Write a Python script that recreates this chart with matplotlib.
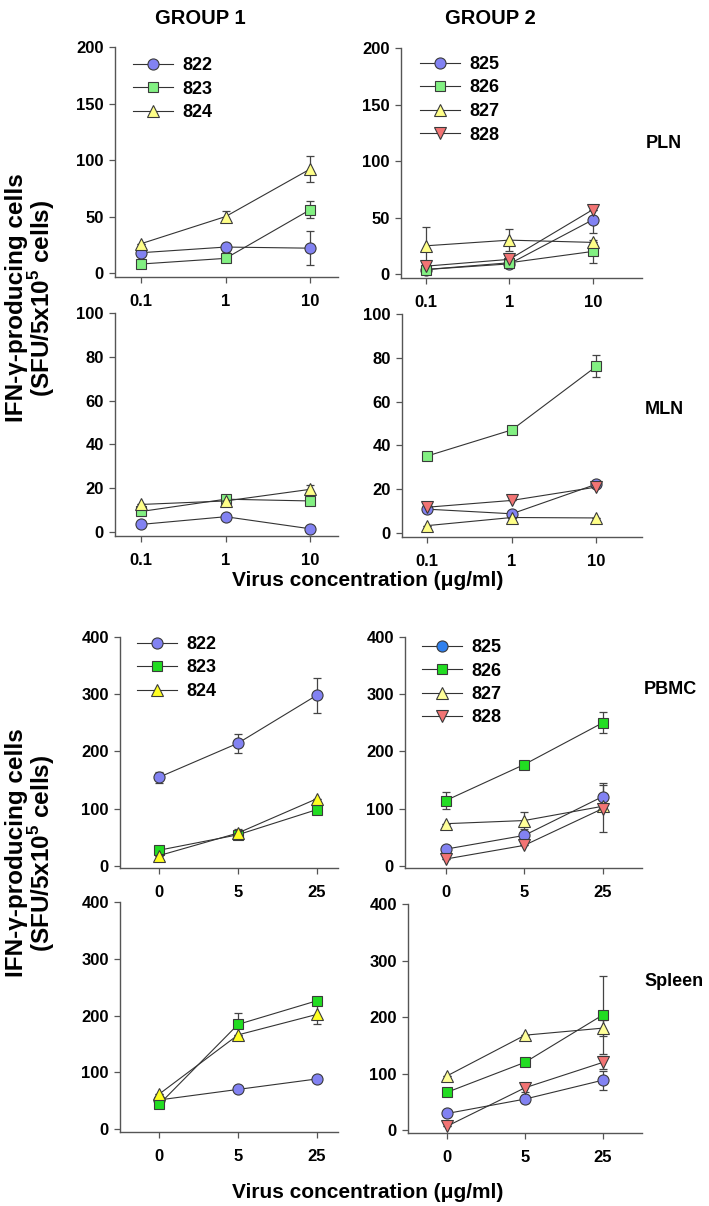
import matplotlib
matplotlib.use('Agg')
import matplotlib.pyplot as plt
from matplotlib.lines import Line2D

plt.rcParams['font.family'] = ['Liberation Sans', 'DejaVu Sans']
plt.rcParams['font.weight'] = 'bold'
plt.rcParams['mathtext.fontset'] = 'custom'
plt.rcParams['mathtext.rm'] = 'Liberation Sans:bold'
plt.rcParams['mathtext.bf'] = 'Liberation Sans:bold'

W, H = 709, 1206

# ---------------- data ----------------
dose_labels = ['0.1', '1', '10']
conc_labels = ['0', '5', '25']
group1_ids = ['822', '823', '824']
group2_ids = ['825', '826', '827', '828']

pln_g1_vals = [[18, 23, 22], [8, 13, 56], [26, 50, 92]]
pln_g1_errs = [[0, 4, 15], [0, 0, 7.5], [0, 5, 11.5]]
pln_g2_vals = [[4, 9, 48], [4, 10, 20], [25, 30, 28], [7, 13, 57]]
pln_g2_errs = [[0, 0, 12], [0, 0, 10], [17, 10, 0], [0, 0, 0]]

mln_g1_vals = [[3.5, 7, 1.5], [9.4, 15, 14.2], [12.6, 14.2, 19.5]]
mln_g1_errs = [[0, 0, 0], [0, 0, 0], [0, 0, 2]]
mln_g2_vals = [[10.9, 8.8, 22.3], [35.2, 47.1, 76.1], [3.4, 7.1, 6.9], [11.8, 14.9, 21]]
mln_g2_errs = [[0, 0, 0], [1.5, 0, 5], [0, 0, 0], [2, 0, 0]]

pbmc_g1_vals = [[154.5, 214, 298], [27, 54, 98], [17.5, 57, 117]]
pbmc_g1_errs = [[10, 16, 31], [0, 0, 0], [0, 8, 0]]
pbmc_g2_vals = [[29, 53, 121], [114, 177, 250], [73.5, 79, 104], [11.7, 35.6, 100]]
pbmc_g2_errs = [[0, 0, 24], [15.5, 0, 18.5], [0, 15, 0], [0, 0, 41]]

spleen_g1_vals = [[51.5, 70, 88.4], [44, 184.5, 226], [62, 166, 202]]
spleen_g1_errs = [[0, 0, 0], [0, 20, 0], [0, 0, 16]]
spleen_g2_vals = [[29.5, 55, 88.5], [67, 120, 204], [96, 168, 180.5], [7, 75, 120]]
spleen_g2_errs = [[0, 7, 17], [0, 7, 69], [0, 0, 14], [0, 8, 12]]

# ---------------- style ----------------
MARKERS = ['o', 's', '^', 'v']
MSIZES = [8.0, 7.2, 8.8, 8.8]
EDGE = '#3a3a3a'
col_top = ['#8282f2', '#82f082', '#ffff88', '#f27474']
col_pbmc_l = ['#8282f2', '#22dd22', '#ffff22', '#f27474']
col_pbmc_r = ['#8282f2', '#22dd22', '#ffff99', '#f27474']
leg_pbmc_r = ['#2f80ee', '#22dd22', '#ffff99', '#f27474']


def add_panel(box, xlim, ylim, yticks, xticklabels, vals, errs, ids, colors,
              legend_at=None, legend_colors=None):
    l, t, r, b = box
    ax = fig.add_axes([l / W, 1 - b / H, (r - l) / W, (b - t) / H])
    for sp in ['top', 'right']:
        ax.spines[sp].set_visible(False)
    for sp in ['left', 'bottom']:
        ax.spines[sp].set_color('#555555')
        ax.spines[sp].set_linewidth(1.0)
    xs = list(range(len(xticklabels)))
    for i, (v, e) in enumerate(zip(vals, errs)):
        ax.errorbar(xs, v, yerr=e, fmt='none', ecolor='#444444', elinewidth=0.9,
                    capsize=3.2, capthick=0.9, zorder=2)
    for i, v in enumerate(vals):
        ax.plot(xs, v, color='#333333', lw=0.8, marker=MARKERS[i], ms=MSIZES[i],
                mfc=colors[i], mec=EDGE, mew=0.8, zorder=3 + i * 0.01)
    ax.set_xlim(*xlim)
    ax.set_ylim(*ylim)
    ax.set_yticks(yticks)
    ax.set_yticklabels([str(y) for y in yticks])
    ax.set_xticks(xs)
    ax.set_xticklabels(xticklabels)
    ax.tick_params(axis='both', direction='out', length=4, width=0.9, color='#555555',
                   labelsize=12)
    ax.tick_params(axis='x', pad=8)
    ax.tick_params(axis='y', pad=4)
    for lab in ax.get_xticklabels() + ax.get_yticklabels():
        lab.set_fontweight('bold')
    if legend_at is not None:
        lc = legend_colors if legend_colors is not None else colors
        handles = [Line2D([0], [0], color='#333333', lw=0.8, marker=MARKERS[i],
                          ms=MSIZES[i], mfc=lc[i], mec=EDGE, mew=0.8)
                   for i in range(len(ids))]
        lx, ly = legend_at
        ax.legend(handles, ids, loc='upper left', frameon=False,
                  bbox_to_anchor=(lx / W, 1 - ly / H), bbox_transform=fig.transFigure,
                  borderpad=0, borderaxespad=0, handlelength=2.2, handletextpad=0.55,
                  labelspacing=0.36, prop={'weight': 'bold', 'size': 13})
    return ax


fig = plt.figure(figsize=(W / 100, H / 100), dpi=100)

# PLN
add_panel((115, 47, 338, 277), (-0.31, 2.33), (-3.5, 200), [0, 50, 100, 150, 200],
          dose_labels, pln_g1_vals, pln_g1_errs, group1_ids, col_top, legend_at=(133, 57))
add_panel((401, 48, 642, 278), (-0.30, 2.59), (-3.5, 200), [0, 50, 100, 150, 200],
          dose_labels, pln_g2_vals, pln_g2_errs, group2_ids, col_top, legend_at=(420, 56))
# MLN
add_panel((115, 313, 338, 536), (-0.31, 2.33), (-1.8, 100), [0, 20, 40, 60, 80, 100],
          dose_labels, mln_g1_vals, mln_g1_errs, group1_ids, col_top)
add_panel((402, 314, 642, 537), (-0.30, 2.54), (-1.8, 100), [0, 20, 40, 60, 80, 100],
          dose_labels, mln_g2_vals, mln_g2_errs, group2_ids, col_top)
# PBMC
add_panel((120, 637, 338, 868), (-0.49, 2.27), (-4, 400), [0, 100, 200, 300, 400],
          conc_labels, pbmc_g1_vals, pbmc_g1_errs, group1_ids, col_pbmc_l, legend_at=(137, 636))
add_panel((405, 637, 642, 868), (-0.52, 2.50), (-4, 400), [0, 100, 200, 300, 400],
          conc_labels, pbmc_g2_vals, pbmc_g2_errs, group2_ids, col_pbmc_r, legend_at=(422, 639),
          legend_colors=leg_pbmc_r)
# Spleen
add_panel((120, 902, 338, 1132), (-0.5, 2.27), (-5, 400), [0, 100, 200, 300, 400],
          conc_labels, spleen_g1_vals, spleen_g1_errs, group1_ids, col_pbmc_l)
add_panel((408, 904, 642, 1133), (-0.5, 2.50), (-5, 400), [0, 100, 200, 300, 400],
          conc_labels, spleen_g2_vals, spleen_g2_errs, group2_ids, col_pbmc_r)


def ftext(x, y, s, **kw):
    fig.text(x / W, 1 - y / H, s, ha='center', va='center', fontweight='bold', **kw)


ftext(200, 18, 'GROUP 1', fontsize=14.5)
ftext(490, 18, 'GROUP 2', fontsize=14.5)
ftext(664, 143, 'PLN', fontsize=13)
ftext(664, 409, 'MLN', fontsize=13)
ftext(670, 690, 'PBMC', fontsize=13)
ftext(674, 982, 'Spleen', fontsize=13)
ftext(368, 581, 'Virus concentration (μg/ml)', fontsize=15)
ftext(368, 1192, 'Virus concentration (μg/ml)', fontsize=15)
ylab = 'IFN-γ-producing cells\n(SFU/5x10$^5$ cells)'
ftext(31, 298, ylab, fontsize=17.5, rotation=90, linespacing=0.95, multialignment='center')
ftext(31, 853, ylab, fontsize=17.5, rotation=90, linespacing=0.95, multialignment='center')

fig.savefig('out.png', dpi=100)
